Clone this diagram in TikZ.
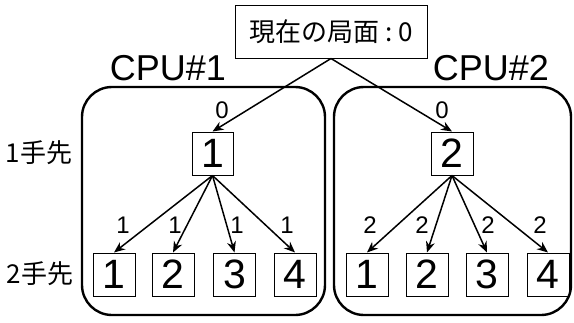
\documentclass[tikz,border=0pt]{standalone}
\usepackage{fontspec}
\setmainfont{Liberation Sans}
\newfontfamily\jp{Noto Sans CJK JP}
\usetikzlibrary{arrows.meta}
\tikzset{
  grp/.style={draw, line width=2.4pt, rounded corners=30pt, inner sep=0pt},
  sq/.style={draw, line width=1pt, minimum width=42pt, minimum height=43pt, inner sep=0pt, font=\fontsize{41}{41}\selectfont},
  lbl/.style={inner sep=0pt, font=\fontsize{24}{24}\selectfont},
  cpu/.style={inner sep=0pt, font=\fontsize{36}{36}\selectfont},
  lev/.style={inner sep=0pt, font=\jp\fontsize{26}{26}\selectfont},
  arr/.style={line width=1.5pt, -{Stealth[length=11pt,width=9pt]}},
}
\begin{document}
\begin{tikzpicture}[x=1pt,y=-1pt]
\useasboundingbox (0,0) rectangle (574,322);
% group boxes
\node[grp, minimum width=243pt, minimum height=228pt] (L) at (203.5,201) {};
\node[grp, minimum width=237pt, minimum height=228pt] (R) at (452.5,201) {};
% top box
\node[draw, line width=1pt, minimum width=192pt, minimum height=53pt, inner sep=0pt, fill=white] (top) at (331,31.5)
  {\jp\fontsize{26}{26}\selectfont 現在の局面\hspace{6pt}:\hspace{6pt}0};
% CPU labels
\node[cpu] (cpu1) at (168,68) {CPU\#1};
\node[cpu] (cpu2) at (491,68) {CPU\#2};
% level labels
\node[lev] (lev1) at (39,153) {1手先};
\node[lev] (lev2) at (40,274) {2手先};
% level 1 nodes
\node[sq, minimum width=41pt] (n1) at (212.5,153.5) {1};
\node[sq] (n2) at (452,153.5) {2};
% leaves
\node[sq] (a1) at (114,274.5) {1};
\node[sq] (a2) at (173,274.5) {2};
\node[sq] (a3) at (234.5,274.5) {3};
\node[sq] (a4) at (295,274.5) {4};
\node[sq] (b1) at (367,274.5) {1};
\node[sq] (b2) at (427,274.5) {2};
\node[sq] (b3) at (487,274.5) {3};
\node[sq] (b4) at (548,274.5) {4};
% arrows
\draw[arr] (top.south) -- (n1.north);
\draw[arr] (top.south) -- (n2.north);
\foreach \t in {a1,a2,a3,a4} \draw[arr] (n1.south) -- (\t.north);
\foreach \t in {b1,b2,b3,b4} \draw[arr] (n2.south) -- (\t.north);
% edge labels
\node[lbl] (e0a) at (222,110) {0};
\node[lbl] (e0b) at (442,110) {0};
\node[lbl] (e1a) at (123,225) {1};
\node[lbl] (e1b) at (175,225) {1};
\node[lbl] (e1c) at (237,225) {1};
\node[lbl] (e1d) at (287,225) {1};
\node[lbl] (e2a) at (370,225) {2};
\node[lbl] (e2b) at (422,225) {2};
\node[lbl] (e2c) at (488,225) {2};
\node[lbl] (e2d) at (540,225) {2};
\end{tikzpicture}
\end{document}
